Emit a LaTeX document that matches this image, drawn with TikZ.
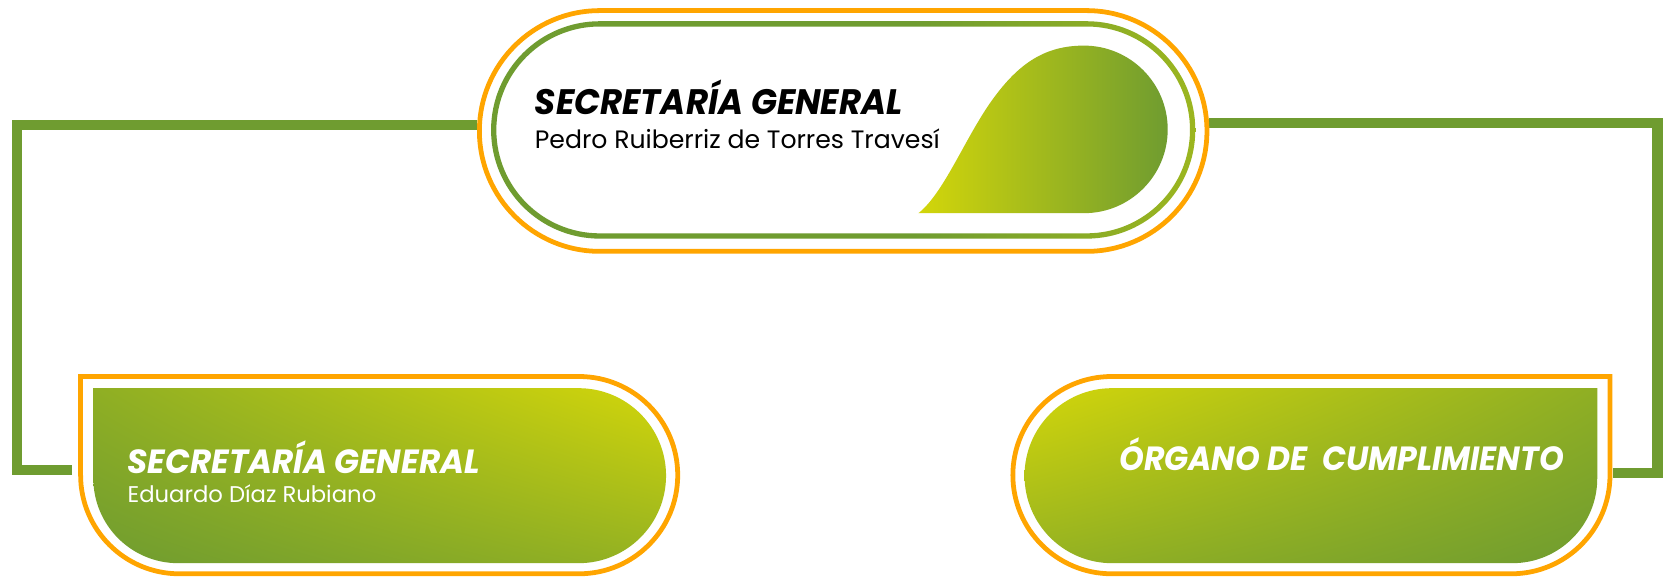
\documentclass[tikz,border=0pt]{standalone}
\usepackage{fontspec}
\setmainfont{Poppins}
\usetikzlibrary{calc,shadings}
\definecolor{gr}{HTML}{6F9C30}
\definecolor{ye}{HTML}{D3D60A}
\definecolor{orng}{HTML}{FFA500}
\pgfdeclarehorizontalshading{ringshade}{100bp}{color(0bp)=(gr); color(55bp)=(gr); color(100bp)=(ye)}
\tikzset{
  conn/.style={draw=gr, line width=0.2cm, line join=miter},
  orangeline/.style={draw=orng, line width=0.09cm},
  holder/.style={inner sep=0pt, draw=none},
  titletxt/.style={anchor=base west, inner sep=0pt, font=\fontsize{19}{22}\selectfont\bfseries\itshape},
  smalltitle/.style={anchor=base west, inner sep=0pt, font=\fontsize{18}{21}\selectfont\bfseries\itshape},
  nametxt/.style={anchor=base west, inner sep=0pt, font=\fontsize{13.5}{16}\selectfont},
  smallname/.style={anchor=base west, inner sep=0pt, font=\fontsize{12.2}{15}\selectfont},
}
\begin{document}
\begin{tikzpicture}[x=0.02cm, y=-0.02cm]
\useasboundingbox (0,0) rectangle (1568,544);
% anchor nodes
\node[holder, minimum width=13.8cm, minimum height=4.62cm] (top) at (795,123.5) {};
\node[holder, minimum width=11.34cm, minimum height=3.8cm] (lnode) at (357.5,448) {};
\node[holder, minimum width=11.34cm, minimum height=3.8cm] (rnode) at (1236.5,448) {};
% connectors
\draw[conn] ($(top.west)+(0,-5.5)$) -| (16,443) -- ($(lnode.west)+(-6,-5)$);
\draw[conn] ($(top.east)+(0,-7.5)$) -| (1563,446) -- ($(rnode.east)+(1,-2)$);
% top node
\fill[white] (565.5,10) -- (1024.5,10) arc[start angle=-90,end angle=90,radius=113.5] -- (565.5,237) arc[start angle=90,end angle=270,radius=113.5] -- cycle;
\draw[orangeline] (565.5,10) -- (1024.5,10) arc[start angle=-90,end angle=90,radius=113.5] -- (565.5,237) arc[start angle=90,end angle=270,radius=113.5] -- cycle;
\shade[shading=ringshade, even odd rule]
  (565.5,20) -- (1024.5,20) arc[start angle=-90,end angle=90,radius=102.5] -- (565.5,225) arc[start angle=90,end angle=270,radius=102.5] -- cycle
  (565.5,25) -- (1024.5,25) arc[start angle=-90,end angle=90,radius=97.5] -- (565.5,220) arc[start angle=90,end angle=270,radius=97.5] -- cycle;
\shade[left color=ye, right color=gr]
  (866,201) -- (1022,201) arc[start angle=90,end angle=-90,radius=79]
  .. controls (985,43) and (960,60) .. (935,95)
  .. controls (910,130) and (890,182) .. (866,201) -- cycle;
\node[titletxt] (t1) at (504,108) {\scalebox{0.96}[1]{SECRETARÍA GENERAL}};
\node[nametxt] (n1) at (504,140) {Pedro Ruiberriz de Torres Travesí};
% left node
\draw[orangeline, fill=white] (76,355) -- (546,355) arc[start angle=-90,end angle=90,radius=93] -- (169,541) arc[start angle=90,end angle=180,radius=93] -- cycle;
\shade[lower left=gr, upper right=ye, upper left=gr!68!ye, lower right=gr!62!ye]
  (88,366) -- (545.5,366) arc[start angle=-90,end angle=90,radius=82.5] -- (168,531) arc[start angle=90,end angle=180,radius=80] -- cycle;
\node[smalltitle, text=white] (t2) at (120,446) {\scalebox{0.97}[1]{SECRETARÍA GENERAL}};
\node[smallname, text=white] (n2) at (120,474) {Eduardo Díaz Rubiano};
% right node
\draw[orangeline, fill=white] (1518,355) -- (1518,448) arc[start angle=0,end angle=90,radius=93] -- (1048,541) arc[start angle=90,end angle=270,radius=93] -- cycle;
\shade[upper left=ye, lower right=gr, lower left=gr!62!ye, upper right=gr!68!ye]
  (1506,366) -- (1506,451) arc[start angle=0,end angle=90,radius=80] -- (1048.5,531) arc[start angle=90,end angle=270,radius=82.5] -- cycle;
\node[smalltitle, text=white] (t3) at (1055,444) {\scalebox{0.94}[1]{ÓRGANO DE\ \ CUMPLIMIENTO}};
\end{tikzpicture}
\end{document}
